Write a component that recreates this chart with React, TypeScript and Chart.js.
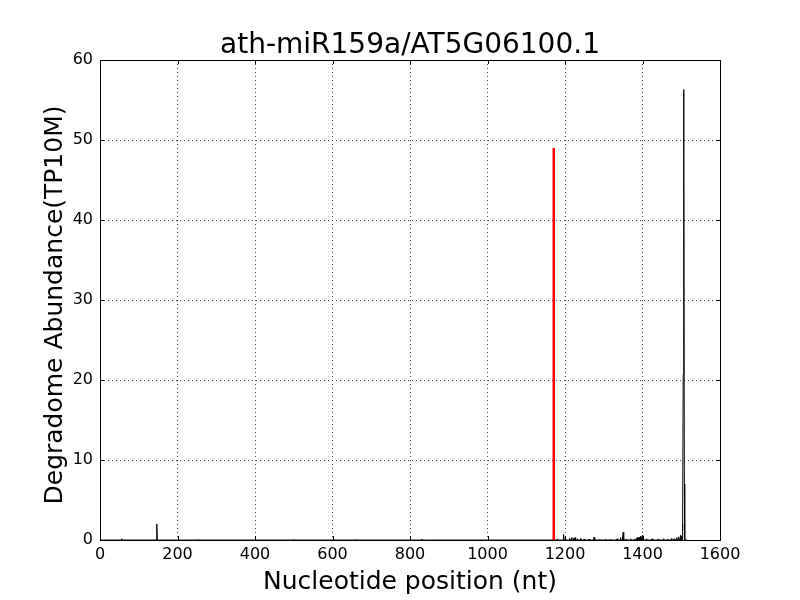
import React, { useEffect, useRef } from "react";
import { Chart, registerables } from "chart.js";

Chart.register(...registerables);

const titleText = "ath-miR159a/AT5G06100.1";
const xLabel = "Nucleotide position (nt)";
const yLabel = "Degradome Abundance(TP10M)";

const transcriptLength = 1515;

// non-zero degradome positions (nt) and abundances (TP10M)
const blackPositions = [
  56, 147, 255, 500, 660, 830, 1180, 1196, 1197, 1212, 1218, 1222, 1226, 1232,
  1240, 1250, 1262, 1275, 1290, 1305, 1318, 1335, 1343, 1350, 1358, 1370, 1380,
  1386, 1391, 1395, 1399, 1401, 1410, 1425, 1440, 1455, 1465, 1475, 1482, 1489,
  1494, 1498, 1501, 1503, 1504, 1505, 1506, 1507, 1508,
];
const blackValues = [
  0.15, 2.0, 0.05, 0.05, 0.05, 0.1, 0.1, 0.7, 0.4, 0.2, 0.3, 0.25, 0.3, 0.15,
  0.2, 0.1, 0.1, 0.35, 0.1, 0.1, 0.1, 0.15, 0.3, 0.95, 0.1, 0.15, 0.15,
  0.3, 0.35, 0.5, 0.4, 0.6, 0.1, 0.15, 0.1, 0.15, 0.1, 0.2, 0.15, 0.3,
  0.4, 0.6, 0.5, 2.0, 1.2, 20.7, 56.3, 47.9, 7.0,
];

// miRNA cleavage site
const siteX = [1171, 1171];
const siteY = [0, 49];

const xTicks = [0, 200, 400, 600, 800, 1000, 1200, 1400, 1600];
const yTicks = [0, 10, 20, 30, 40, 50, 60];

const FONT = "'DejaVu Sans', sans-serif";

export default function App() {
  const ref = useRef<HTMLCanvasElement>(null);

  useEffect(() => {
    const canvas = ref.current;
    if (!canvas) return;

    const lookup = new Map<number, number>();
    blackPositions.forEach((p, i) => lookup.set(p, blackValues[i]));
    const blackData: { x: number; y: number }[] = [];
    for (let p = 1; p <= transcriptLength; p++) {
      blackData.push({ x: p, y: lookup.get(p) ?? 0 });
    }
    const redData = siteX.map((x, i) => ({ x, y: siteY[i] }));

    const framePlugin = {
      id: "frame",
      afterDraw(chart: any) {
        const { ctx, chartArea } = chart;
        const { left, right, top, bottom } = chartArea;
        const xs = chart.scales.x;
        const ys = chart.scales.y;
        ctx.save();
        ctx.strokeStyle = "#000";
        ctx.lineWidth = 1;
        // inward tick marks
        ctx.beginPath();
        xTicks.forEach((v) => {
          const px = Math.round(xs.getPixelForValue(v)) + 0.5;
          ctx.moveTo(px, bottom);
          ctx.lineTo(px, bottom - 4);
          ctx.moveTo(px, top);
          ctx.lineTo(px, top + 4);
        });
        yTicks.forEach((v) => {
          const py = Math.round(ys.getPixelForValue(v)) + 0.5;
          ctx.moveTo(left, py);
          ctx.lineTo(left + 4, py);
          ctx.moveTo(right, py);
          ctx.lineTo(right - 4, py);
        });
        ctx.stroke();
        ctx.strokeRect(
          Math.round(left) + 0.5,
          Math.round(top) + 0.5,
          Math.round(right - left),
          Math.round(bottom - top)
        );
        // texts
        ctx.fillStyle = "#000";
        ctx.textAlign = "center";
        ctx.textBaseline = "alphabetic";
        ctx.font = `28px ${FONT}`;
        ctx.fillText(titleText, (left + right) / 2, 53);
        ctx.font = `25px ${FONT}`;
        ctx.fillText(xLabel, (left + right) / 2, 589);
        ctx.translate(55, (top + bottom) / 2 + 5);
        ctx.rotate(-Math.PI / 2);
        ctx.textBaseline = "middle";
        ctx.fillText(yLabel, 0, 0);
        ctx.restore();
      },
    };

    const chart = new Chart(canvas, {
      type: "line",
      data: {
        datasets: [
          {
            data: redData,
            borderColor: "#ff0000",
            borderWidth: 2.5,
            pointRadius: 0,
            tension: 0,
            fill: false,
          },
          {
            data: blackData,
            borderColor: "#000000",
            borderWidth: 1,
            pointRadius: 0,
            tension: 0,
            fill: false,
          },
        ],
      },
      options: {
        animation: false,
        responsive: false,
        events: [],
        layout: { padding: { top: 60, right: 80, left: 0, bottom: 0 } },
        plugins: {
          legend: { display: false },
          tooltip: { enabled: false },
          title: { display: false },
        },
        scales: {
          x: {
            type: "linear",
            min: 0,
            max: 1600,
            afterFit: (s: any) => {
              s.height = 60;
            },
            afterBuildTicks: (s: any) => {
              s.ticks = xTicks.map((v) => ({ value: v }));
            },
            ticks: {
              color: "#000",
              font: { family: FONT, size: 16 },
              padding: 5,
              maxRotation: 0,
              autoSkip: false,
              callback: (v: any) => String(v),
            },
            grid: { color: "#444", lineWidth: 1, drawTicks: false },
            border: { display: false, dash: [1, 3] },
          },
          y: {
            type: "linear",
            min: 0,
            max: 60,
            afterFit: (s: any) => {
              s.width = 100;
            },
            afterBuildTicks: (s: any) => {
              s.ticks = yTicks.map((v) => ({ value: v }));
            },
            ticks: {
              color: "#000",
              font: { family: FONT, size: 16 },
              padding: 7,
              autoSkip: false,
              callback: (v: any) => String(v),
            },
            grid: { color: "#444", lineWidth: 1, drawTicks: false },
            border: { display: false, dash: [1, 3] },
          },
        },
      },
      plugins: [framePlugin],
    });

    return () => chart.destroy();
  }, []);

  return (
    <div style={{ position: "absolute", left: 0, top: 0, width: 800, height: 600, background: "#fff" }}>
      <canvas ref={ref} width={800} height={600} />
    </div>
  );
}
